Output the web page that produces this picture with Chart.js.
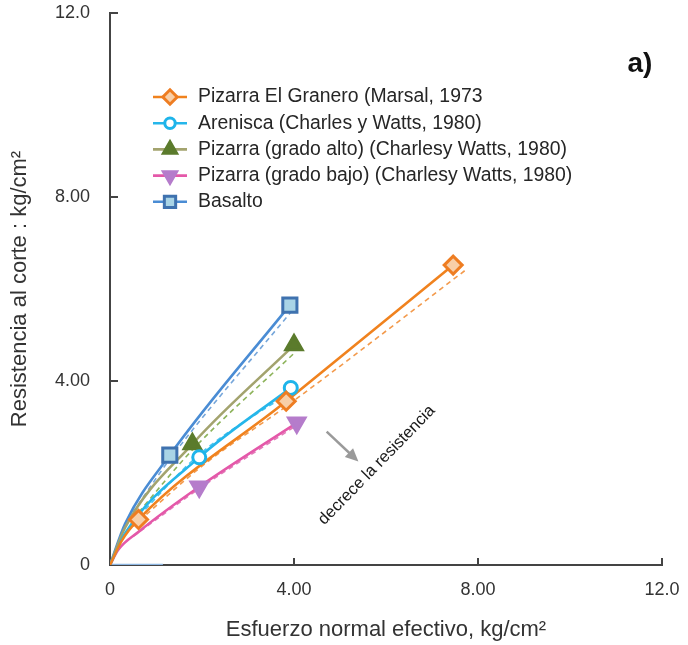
<!DOCTYPE html>
<html>
<head>
<meta charset="utf-8">
<script src="https://cdn.jsdelivr.net/npm/chart.js@4.4.1/dist/chart.umd.min.js"></script>
<style>
  html, body { margin: 0; padding: 0; background: #fff; }
  #wrap { width: 688px; height: 645px; }
</style>
</head>
<body>
<div id="wrap"><canvas id="chart" width="688" height="645"></canvas></div>
<script>
// axis ticks
const tickValues = [0, 4, 8, 12];
const tickLabels = ["0", "4.00", "8.00", "12.0"];

const seriesNames = [
  "Pizarra El Granero (Marsal, 1973",
  "Arenisca (Charles y Watts, 1980)",
  "Pizarra (grado alto) (Charlesy Watts, 1980)",
  "Pizarra (grado bajo) (Charlesy Watts, 1980)",
  "Basalto"
];

// measured points (markers)
const graneroX = [0.62, 3.83, 7.46];
const graneroY = [0.99, 3.56, 6.52];
const areniscaX = [1.94, 3.93];
const areniscaY = [2.34, 3.85];
const altoX = [1.79, 4.0];
const altoY = [2.63, 4.78];
const bajoX = [1.94, 4.06];
const bajoY = [1.70, 3.09];
const basaltoX = [1.30, 3.91];
const basaltoY = [2.39, 5.65];

// solid curves (from origin)
const graneroCurveX = [0, 0.25, 0.62, 3.83, 7.46];
const graneroCurveY = [0, 0.52, 0.99, 3.56, 6.52];
const areniscaCurveX = [0, 0.33, 1.94, 3.93];
const areniscaCurveY = [0, 0.69, 2.34, 3.85];
const altoCurveX = [0, 0.33, 1.79, 4.0];
const altoCurveY = [0, 0.82, 2.63, 4.78];
const bajoCurveX = [0, 0.18, 0.62, 1.94, 4.06];
const bajoCurveY = [0, 0.33, 0.72, 1.70, 3.09];
const basaltoCurveX = [0, 0.33, 1.30, 3.91];
const basaltoCurveY = [0, 0.9, 2.39, 5.65];

// dashed trend lines
const graneroTrendX = [0.5, 2.0, 3.9, 7.78];
const graneroTrendY = [0.84, 2.15, 3.5, 6.45];
const areniscaTrendX = [0.5, 1.94, 3.95];
const areniscaTrendY = [0.93, 2.4, 3.78];
const altoTrendX = [0.5, 1.79, 4.02];
const altoTrendY = [1.0, 2.5, 4.62];
const bajoTrendX = [0.5, 1.94, 4.08];
const bajoTrendY = [0.62, 1.66, 3.05];
const basaltoTrendX = [0.5, 1.3, 3.95];
const basaltoTrendY = [1.15, 2.3, 5.52];

// short light blue stroke lying on the x axis
const axisStrokeX = [0, 1.15];
const axisStrokeY = [0, 0];

const pts = (xs, ys) => xs.map((x, i) => ({ x, y: ys[i] }));

const styles = [
  { line: "#F0821E", trend: "#F39A4C", border: "#EE7D22", fill: "#F8CFA8", pointStyle: "rectRot", radius: 9, rotation: 0 },
  { line: "#25B6EA", trend: "#4CC3EE", border: "#1EB4EA", fill: "#ffffff", pointStyle: "circle", radius: 6.5, rotation: 0 },
  { line: "#A3A36E", trend: "#8DB35A", border: "#5B7B2C", fill: "#5B7B2C", pointStyle: "triangle", radius: 9.5, rotation: 0 },
  { line: "#E458A9", trend: "#E27BB8", border: "#B57CCB", fill: "#B57CCB", pointStyle: "triangle", radius: 9.5, rotation: 180 },
  { line: "#4A8CD4", trend: "#76A6DA", border: "#3F72AF", fill: "#A9D4E6", pointStyle: "rect", radius: 10, rotation: 0 }
];

const markerSets = [
  pts(graneroX, graneroY), pts(areniscaX, areniscaY), pts(altoX, altoY), pts(bajoX, bajoY), pts(basaltoX, basaltoY)
];
const curveSets = [
  pts(graneroCurveX, graneroCurveY), pts(areniscaCurveX, areniscaCurveY), pts(altoCurveX, altoCurveY),
  pts(bajoCurveX, bajoCurveY), pts(basaltoCurveX, basaltoCurveY)
];
const trendSets = [
  pts(graneroTrendX, graneroTrendY), pts(areniscaTrendX, areniscaTrendY), pts(altoTrendX, altoTrendY),
  pts(bajoTrendX, bajoTrendY), pts(basaltoTrendX, basaltoTrendY)
];

const datasets = [];
// markers on top
markerSets.forEach((data, i) => {
  const s = styles[i];
  datasets.push({
    label: seriesNames[i], data, showLine: false,
    pointStyle: s.pointStyle, pointRadius: s.radius, pointRotation: s.rotation,
    pointBackgroundColor: s.fill, pointBorderColor: s.border, pointBorderWidth: 3,
    borderColor: s.line
  });
});
curveSets.forEach((data, i) => {
  datasets.push({
    label: seriesNames[i] + " curva", data, showLine: true, borderColor: styles[i].line, borderWidth: 2.6,
    pointRadius: 0, cubicInterpolationMode: "monotone", fill: false
  });
});
trendSets.forEach((data, i) => {
  datasets.push({
    label: seriesNames[i] + " tendencia", data, showLine: true, borderColor: styles[i].trend, borderWidth: 1.6,
    borderDash: [5, 4], pointRadius: 0, cubicInterpolationMode: "monotone", fill: false
  });
});
datasets.push({
  label: "eje", data: pts(axisStrokeX, axisStrokeY), showLine: true, borderColor: "#8DB6E2", borderWidth: 2.5, pointRadius: 0
});

const font = "'Liberation Sans', Arial, sans-serif";

const extras = {
  id: "extras",
  afterDraw(chart) {
    const { ctx, scales: { x, y }, chartArea } = chart;
    ctx.save();

    // inside tick marks
    ctx.strokeStyle = "#444";
    ctx.lineWidth = 2;
    tickValues.slice(1).forEach(v => {
      const px = x.getPixelForValue(v);
      ctx.beginPath();
      ctx.moveTo(px, chartArea.bottom);
      ctx.lineTo(px, chartArea.bottom - 7);
      ctx.stroke();
      const py = y.getPixelForValue(v);
      ctx.beginPath();
      ctx.moveTo(chartArea.left, py);
      ctx.lineTo(chartArea.left + 8, py);
      ctx.stroke();
    });

    // legend
    const lx = chartArea.left + 43;
    let ly = chartArea.top + 84;
    ctx.font = "19.4px " + font;
    ctx.textBaseline = "middle";
    ctx.textAlign = "left";
    seriesNames.forEach((name, i) => {
      const s = styles[i];
      ctx.strokeStyle = s.line;
      ctx.lineWidth = 2.6;
      ctx.beginPath();
      ctx.moveTo(lx, ly);
      ctx.lineTo(lx + 34, ly);
      ctx.stroke();
      ctx.fillStyle = s.fill;
      ctx.strokeStyle = s.border;
      ctx.lineWidth = 3;
      Chart.helpers.drawPoint(ctx, { pointStyle: s.pointStyle, rotation: s.rotation, radius: s.radius * 0.8, borderWidth: 3 }, lx + 17, ly);
      ctx.fillStyle = "#262626";
      ctx.fillText(name, lx + 45, ly);
      ly += 26.2;
    });

    // arrow
    const ax0 = x.getPixelForValue(4.71), ay0 = y.getPixelForValue(2.90);
    const ax1 = x.getPixelForValue(5.40), ay1 = y.getPixelForValue(2.25);
    const ang = Math.atan2(ay1 - ay0, ax1 - ax0);
    ctx.strokeStyle = "#9A9A9A";
    ctx.fillStyle = "#9A9A9A";
    ctx.lineWidth = 2.5;
    ctx.beginPath();
    ctx.moveTo(ax0, ay0);
    ctx.lineTo(ax1 - 8 * Math.cos(ang), ay1 - 8 * Math.sin(ang));
    ctx.stroke();
    ctx.beginPath();
    ctx.moveTo(ax1, ay1);
    ctx.lineTo(ax1 - 13 * Math.cos(ang) + 6 * Math.sin(ang), ay1 - 13 * Math.sin(ang) - 6 * Math.cos(ang));
    ctx.lineTo(ax1 - 13 * Math.cos(ang) - 6 * Math.sin(ang), ay1 - 13 * Math.sin(ang) + 6 * Math.cos(ang));
    ctx.closePath();
    ctx.fill();

    // rotated note
    ctx.save();
    ctx.translate(x.getPixelForValue(5.80), y.getPixelForValue(2.17));
    ctx.rotate(-45.7 * Math.PI / 180);
    ctx.font = "16.5px " + font;
    ctx.fillStyle = "#1a1a1a";
    ctx.textAlign = "center";
    ctx.fillText("decrece la resistencia", 0, 0);
    ctx.restore();

    // panel label
    ctx.font = "bold 28px " + font;
    ctx.fillStyle = "#111";
    ctx.textAlign = "center";
    ctx.fillText("a)", x.getPixelForValue(11.52), y.getPixelForValue(10.88));

    ctx.restore();
  }
};

new Chart(document.getElementById("chart"), {
  type: "scatter",
  data: { datasets },
  options: {
    responsive: false,
    animation: false,
    layout: { padding: { left: 0, right: 26, top: 13, bottom: 0 } },
    plugins: { legend: { display: false }, tooltip: { enabled: false } },
    scales: {
      x: {
        type: "linear", min: 0, max: 12,
        afterBuildTicks: s => { s.ticks = tickValues.map(v => ({ value: v })); },
        afterFit: s => { s.height = 80; s.paddingLeft = 0; s.paddingRight = 0; },
        ticks: {
          callback: (v, i) => tickLabels[i], color: "#333", padding: 14, maxRotation: 0,
          font: { family: font, size: 18 }
        },
        grid: { drawOnChartArea: false, drawTicks: false },
        border: { color: "#444", width: 2 },
        title: {
          display: true, text: "Esfuerzo normal efectivo, kg/cm²", color: "#333",
          font: { family: font, size: 22 }, padding: { top: 0, bottom: 2 }
        }
      },
      y: {
        type: "linear", min: 0, max: 12,
        afterBuildTicks: s => { s.ticks = tickValues.map(v => ({ value: v })); },
        afterFit: s => { s.width = 110; s.paddingTop = 0; s.paddingBottom = 0; },
        ticks: {
          callback: (v, i) => tickLabels[i], color: "#333", padding: 20,
          font: { family: font, size: 18 }
        },
        grid: { drawOnChartArea: false, drawTicks: false },
        border: { color: "#444", width: 2 },
        title: {
          display: true, text: "Resistencia al corte : kg/cm²", color: "#333",
          font: { family: font, size: 22 }, padding: { top: 7, bottom: 0 }
        }
      }
    }
  },
  plugins: [extras]
});
</script>
</body>
</html>
